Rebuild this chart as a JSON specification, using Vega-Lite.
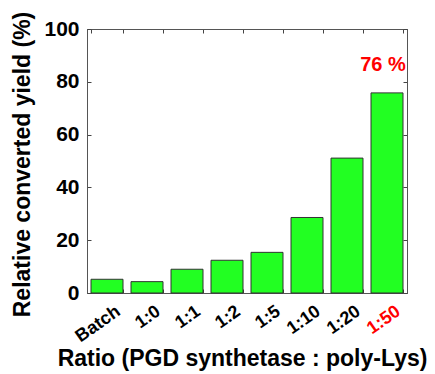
{
  "$schema": "https://vega.github.io/schema/vega-lite/v6.json",
  "width": 320,
  "height": 264,
  "autosize": {"type": "none"},
  "padding": {"left": 87, "top": 29, "right": 28, "bottom": 81},
  "background": "white",
  "config": {
    "font": "Liberation Sans",
    "view": {"stroke": "#444", "strokeWidth": 1},
    "axis": {"grid": false, "domainColor": "#555", "tickColor": "#444"}
  },
  "data": {
    "values": [
      {"ratio": "Batch", "yield": 5.2},
      {"ratio": "1:0", "yield": 4.3},
      {"ratio": "1:1", "yield": 9.0},
      {"ratio": "1:2", "yield": 12.4},
      {"ratio": "1:5", "yield": 15.4},
      {"ratio": "1:10", "yield": 28.6},
      {"ratio": "1:20", "yield": 51.1},
      {"ratio": "1:50", "yield": 75.8, "label": "76 %"}
    ]
  },
  "layer": [
    {
      "mark": {"type": "bar", "fill": "#22ff22", "stroke": "#333", "strokeWidth": 1},
      "encoding": {
        "x": {
          "field": "ratio", "type": "nominal", "sort": null,
          "scale": {"paddingInner": 0.2, "paddingOuter": 0.1},
          "axis": {
            "orient": "bottom",
            "title": "Ratio (PGD synthetase : poly-Lys)",
            "titleFontSize": 23, "titleFontWeight": "bold", "titleColor": "black",
            "titleX": 155, "titleY": 65, "titleBaseline": "middle",
            "labelAngle": -35, "labelAlign": "right", "labelBaseline": "top",
            "labelFontSize": 18, "labelFontWeight": "bold",
            "labelColor": {"condition": {"test": "datum.value == '1:50'", "value": "red"}, "value": "black"},
            "labelPadding": 13, "labelOffset": 6,
            "tickBand": "extent", "tickSize": -4, "domain": true
          }
        },
        "y": {
          "field": "yield", "type": "quantitative",
          "scale": {"domain": [0, 100], "nice": false},
          "axis": {
            "orient": "left",
            "title": "Relative converted yield (%)",
            "titleFontSize": 23, "titleFontWeight": "bold", "titleColor": "black",
            "titleX": -65, "titleY": 135, "titleBaseline": "middle", "titleAngle": -90,
            "values": [0, 20, 40, 60, 80, 100],
            "labelFontSize": 21, "labelFontWeight": "bold", "labelColor": "black",
            "labelPadding": 12, "tickSize": -4
          }
        }
      }
    },
    {
      "transform": [{"filter": "isValid(datum.label)"}],
      "mark": {"type": "text", "color": "red", "fontSize": 20, "fontWeight": "bold", "dy": -28, "dx": -4, "baseline": "middle"},
      "encoding": {
        "x": {"field": "ratio", "type": "nominal", "sort": null, "axis": null},
        "y": {"field": "yield", "type": "quantitative", "axis": null},
        "text": {"field": "label"}
      }
    },
    {
      "mark": {"type": "tick", "opacity": 0},
      "encoding": {
        "x": {
          "field": "ratio", "type": "nominal", "sort": null,
          "scale": {"paddingInner": 0.2, "paddingOuter": 0.1},
          "axis": {"orient": "top", "title": null, "labels": false, "tickBand": "extent", "tickSize": -4}
        },
        "y": {
          "field": "yield", "type": "quantitative",
          "scale": {"domain": [0, 100], "nice": false},
          "axis": {"orient": "right", "title": null, "labels": false, "values": [0, 20, 40, 60, 80, 100], "tickSize": -4}
        }
      }
    }
  ],
  "resolve": {"axis": {"x": "independent", "y": "independent"}}
}
